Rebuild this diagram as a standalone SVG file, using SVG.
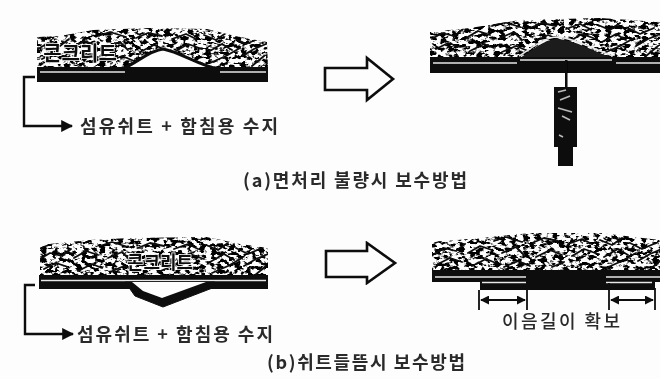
<svg xmlns="http://www.w3.org/2000/svg" width="660" height="379" viewBox="0 0 660 379">
<style>
.t{font-family:"Noto Sans CJK KR","Noto Sans",sans-serif;font-weight:700;fill:#2a2a2a;text-anchor:middle}
.c{font-family:"Noto Sans CJK KR","Noto Sans",sans-serif;font-weight:700;fill:#111;text-anchor:middle;stroke:#fdfdfd;stroke-width:1.6;paint-order:stroke}
.l{fill:none;stroke:#0a0a0a;stroke-linejoin:miter}
.w{fill:none;stroke:#e8e8e8}
.s{fill:none;stroke:#0a0a0a;stroke-width:1.8;stroke-linecap:round;stroke-linejoin:round}
</style>
<defs>
<filter id="soft" x="-5%" y="-5%" width="110%" height="110%"><feGaussianBlur stdDeviation="0.6"/></filter>
<filter id="n1" x="0" y="0" width="100%" height="100%" color-interpolation-filters="sRGB"><feTurbulence type="fractalNoise" baseFrequency="0.17 0.27" numOctaves="3" seed="4"/><feColorMatrix values="0 0 0 0 0 0 0 0 0 0 0 0 0 0 0 8 0 0 0 -3.7"/></filter>
<filter id="n2" x="0" y="0" width="100%" height="100%" color-interpolation-filters="sRGB"><feTurbulence type="fractalNoise" baseFrequency="0.17 0.27" numOctaves="3" seed="11"/><feColorMatrix values="0 0 0 0 0 0 0 0 0 0 0 0 0 0 0 8 0 0 0 -3.7"/></filter>
<filter id="n3" x="0" y="0" width="100%" height="100%" color-interpolation-filters="sRGB"><feTurbulence type="fractalNoise" baseFrequency="0.17 0.27" numOctaves="3" seed="23"/><feColorMatrix values="0 0 0 0 0 0 0 0 0 0 0 0 0 0 0 8 0 0 0 -3.7"/></filter>
<filter id="n4" x="0" y="0" width="100%" height="100%" color-interpolation-filters="sRGB"><feTurbulence type="fractalNoise" baseFrequency="0.17 0.27" numOctaves="3" seed="37"/><feColorMatrix values="0 0 0 0 0 0 0 0 0 0 0 0 0 0 0 8 0 0 0 -3.7"/></filter>
<path id="scr" class="s" d="M3 8L16 3M2 19L12 13L24 16L33 9M6 29L18 23L30 27M36 18L48 11L60 15M40 31L54 24L64 28M62 6L74 2L90 7M70 18L84 12L92 20M72 32L86 26L98 31M100 8L112 3L126 6M104 22L118 15L130 20M120 32L132 27M136 9L150 4L160 9M140 21L152 14L166 19M168 5L180 10L190 3M172 22L186 14L196 20M174 33L190 26L204 18M198 8L210 14L224 8M206 26L218 19L230 14M216 36L228 26"/>
<clipPath id="c1"><path d="M37 37L60 36L93 30L150 28L207 29L235 36L267 42L268 68L37 68Z"/></clipPath>
<clipPath id="c2"><path d="M430 32L470 28L520 20L600 18L660 22L660 58L430 58Z"/></clipPath>
<clipPath id="c3"><path d="M40 245L90 240L130 238L207 237L240 244L268 248L268 276L40 276Z"/></clipPath>
<clipPath id="c4"><path d="M432 242L480 238L530 233L600 233L660 240L660 271L432 271Z"/></clipPath>
<marker id="h" viewBox="0 0 10 10" refX="9" refY="5" markerWidth="5" markerHeight="5" orient="auto-start-reverse"><path d="M0 0L10 5L0 10Z" fill="#0a0a0a"/></marker>
</defs>
<rect width="660" height="379" fill="#fdfdfd"/>
<g id="a-before" filter="url(#soft)">
<g clip-path="url(#c1)"><rect x="37" y="28" width="232" height="40" filter="url(#n1)"/><use href="#scr" x="36" y="30"/></g>
<path d="M124 68C135 64 150 50 163 49C180 52 200 66 218 69Z" fill="#fdfdfd"/>
<path class="l" stroke-width="3" d="M124 68C135 64 150 50 163 49C180 52 200 66 218 69"/>
<rect x="37" y="67" width="231" height="15" fill="#0a0a0a"/>
<path class="w" stroke-width="1.500" d="M40 72H125M220 72H266"/>
<text class="c" x="80" y="61" font-size="20">콘크리트</text>
</g>
<g id="a-label" filter="url(#soft)">
<text class="t" x="179" y="133" font-size="18" textLength="198">섬유쉬트 + 함침용 수지</text>
</g>
<g id="a-arrow" filter="url(#soft)">
<path class="l" fill="#fdfdfd" stroke-width="2.6" d="M325 68H367V58L393 79L367 100V90H325Z"/>
</g>
<g id="a-after" filter="url(#soft)">
<g clip-path="url(#c2)"><rect x="430" y="18" width="230" height="40" filter="url(#n2)"/><use href="#scr" x="430" y="20"/></g>
<path d="M520 58C532 50 545 39 557 39C575 40 595 52 613 58Z" fill="#1a1a1a"/>
<path class="w" stroke-width="1.5" d="M519 56C532 48 545 37 557 37C575 38 595 50 613 56"/>
<rect x="430" y="57" width="230" height="16" fill="#0a0a0a"/>
<path class="w" stroke-width="1.5" d="M433 63H517M520 60H612M616 63H660"/>
</g>
<g id="a-injector" filter="url(#soft)">
<rect x="565" y="60" width="2.5" height="28" fill="#0a0a0a"/>
<rect x="554" y="87" width="23" height="60" fill="#111"/>
<path d="M558 92L566 90M560 100L570 96M558 108L572 112M562 116L570 120M559 135L563 137" stroke="#bbb" stroke-width="1.5" fill="none"/>
<rect x="558" y="147" width="15" height="19" fill="#0a0a0a"/>
</g>
<g id="a-caption" filter="url(#soft)">
<text class="t" x="355" y="187" font-size="18" textLength="224">(a)면처리 불량시 보수방법</text>
</g>
<g id="b-before" filter="url(#soft)">
<g clip-path="url(#c3)"><rect x="40" y="236" width="229" height="41" filter="url(#n3)"/><use href="#scr" x="38" y="240"/></g>
<rect x="39" y="275" width="229" height="14" fill="#0a0a0a"/>
<path class="w" stroke-width="1.6" d="M41 280.500H266"/>
<path d="M125 282L135 296L163 307L215 287V282Z" fill="#0a0a0a" stroke="#0a0a0a" stroke-linejoin="round"/>
<path d="M132 282L143 291L162 298L206 282Z" fill="#fdfdfd"/>
<text class="c" x="160" y="269" font-size="18">콘크리트</text>
</g>
<g id="b-label" filter="url(#soft)">
<text class="t" x="175" y="341" font-size="18" textLength="196">섬유쉬트 + 함침용 수지</text>
</g>
<g id="b-arrow" filter="url(#soft)">
<path class="l" fill="#fdfdfd" stroke-width="2.6" d="M326 251H367V243L395 263L367 283V277H326Z"/>
</g>
<g id="b-after" filter="url(#soft)">
<g clip-path="url(#c4)"><rect x="432" y="232" width="228" height="40" filter="url(#n4)"/><use href="#scr" x="432" y="235"/></g>
<rect x="432" y="270" width="228" height="12" fill="#0a0a0a"/>
<rect x="480" y="281" width="175" height="9" fill="#0a0a0a"/>
<path class="w" stroke-width="1.500" d="M435 277H526M482 282.500H526M606 277H660M606 282.500H652"/>
</g>
<g id="connectors" filter="url(#soft)">
<path class="l" stroke-width="2.4" marker-end="url(#h)" d="M35 77H24V126H72"/>
<path class="l" stroke-width="2.4" marker-end="url(#h)" d="M35 285H25V334H73"/>
<path class="l" stroke-width="1.800" d="M479 290V310M527 283V310M609 283V310M655 288V310"/>
<path class="l" stroke-width="1.800" marker-start="url(#h)" marker-end="url(#h)" d="M481 300H525"/>
<path class="l" stroke-width="1.800" marker-start="url(#h)" marker-end="url(#h)" d="M611 300H653"/>
</g>
<g id="b-dim-label" filter="url(#soft)">
<text class="t" x="561" y="328" font-size="18" textLength="118" style="font-weight:500">이음길이 확보</text>
</g>
<g id="b-caption" filter="url(#soft)">
<text class="t" x="366" y="369" font-size="18" textLength="198">(b)쉬트들뜸시 보수방법</text>
</g>
</svg>
